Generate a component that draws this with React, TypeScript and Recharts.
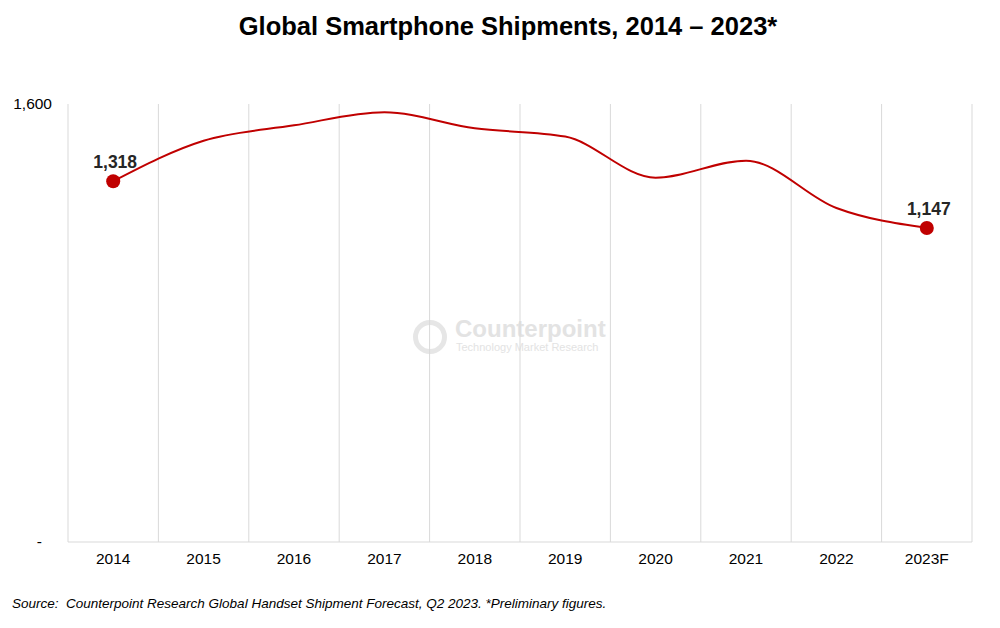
import { LineChart, Line, XAxis, YAxis, CartesianGrid } from 'recharts';

const years = ['2014', '2015', '2016', '2017', '2018', '2019', '2020', '2021', '2022', '2023F'];
const shipments = [1318, 1466, 1522, 1570, 1511, 1481, 1331, 1393, 1220, 1147];
const yTicks = [0, 1600];

const data = years.map((year, i) => ({ year, value: shipments[i] }));

const RED = '#c00000';
const FONT = 'Arial, "Liberation Sans", sans-serif';

const YTick = (props: any) => {
    const { x, y, payload } = props;
    const isZero = payload.value === 0;
    return (
        <text
            x={isZero ? x - 12 : x - 2}
            y={y}
            dy={5}
            textAnchor="end"
            fill="#000"
            fontSize={15.5}
            fontFamily={FONT}
        >
            {isZero ? '-' : payload.value.toLocaleString('en-US')}
        </text>
    );
};

const EndDot = (props: any) => {
    const { cx, cy, index } = props;
    if (index !== 0 && index !== data.length - 1) return <g key={index} />;
    return <circle key={index} cx={cx} cy={cy} r={7} fill={RED} stroke="none" />;
};

const EndLabel = (props: any) => {
    const { x, y, index, value } = props;
    if (index !== 0 && index !== data.length - 1) return null;
    return (
        <text
            x={x + 2}
            y={y - 13}
            textAnchor="middle"
            fill="#262626"
            fontSize={17.5}
            fontWeight="bold"
            fontFamily={FONT}
        >
            {Number(value).toLocaleString('en-US')}
        </text>
    );
};

const App = () => {
    return (
        <div
            style={{
                position: 'absolute',
                left: 0,
                top: 0,
                width: 1000,
                height: 628,
                background: '#fff',
                fontFamily: FONT,
            }}
        >
            <div
                style={{
                    position: 'absolute',
                    top: 12,
                    left: 0,
                    width: 1016,
                    textAlign: 'center',
                    fontSize: 25.5,
                    fontWeight: 'bold',
                    color: '#000',
                }}
            >
                Global Smartphone Shipments, 2014 – 2023*
            </div>

            {/* watermark */}
            <div
                style={{
                    position: 'absolute',
                    left: 413,
                    top: 320,
                    width: 24,
                    height: 24,
                    borderRadius: '50%',
                    border: '5px solid #e6e6e6',
                }}
            />
            <div
                style={{
                    position: 'absolute',
                    left: 455,
                    top: 315,
                    fontSize: 24,
                    fontWeight: 'bold',
                    color: '#e3e3e3',
                }}
            >
                Counterpoint
            </div>
            <div
                style={{
                    position: 'absolute',
                    left: 456,
                    top: 341,
                    fontSize: 11,
                    color: '#e3e3e3',
                }}
            >
                Technology Market Research
            </div>

            <div style={{ position: 'absolute', left: 0, top: 0 }}>
                <LineChart
                    width={1000}
                    height={628}
                    data={data}
                    margin={{ top: 104, right: 28, left: 8, bottom: 56 }}
                >
                    <CartesianGrid
                        horizontal={false}
                        stroke="#d9d9d9"
                        verticalCoordinatesGenerator={({ offset }: any) =>
                            Array.from({ length: years.length + 1 }, (_, i) => offset.left + (i * offset.width) / years.length)
                        }
                    />
                    <XAxis
                        dataKey="year"
                        scale="band"
                        axisLine={{ stroke: '#d9d9d9' }}
                        tickLine={false}
                        tick={{ fill: '#000', fontSize: 15.5, fontFamily: FONT }}
                        tickMargin={5}
                        height={30}
                        interval={0}
                    />
                    <YAxis
                        domain={[0, 1600]}
                        ticks={yTicks}
                        axisLine={false}
                        tickLine={false}
                        tick={<YTick />}
                        tickMargin={8}
                        width={60}
                    />
                    <Line
                        type="monotone"
                        dataKey="value"
                        stroke={RED}
                        strokeWidth={2}
                        dot={<EndDot />}
                        activeDot={false}
                        label={<EndLabel />}
                        isAnimationActive={false}
                    />
                </LineChart>
            </div>

            <div
                style={{
                    position: 'absolute',
                    left: 12,
                    top: 596,
                    fontSize: 13.5,
                    fontStyle: 'italic',
                    color: '#000',
                }}
            >
                Source:&nbsp; Counterpoint Research Global Handset Shipment Forecast, Q2 2023. *Preliminary figures.
            </div>
        </div>
    );
};

export default App;
